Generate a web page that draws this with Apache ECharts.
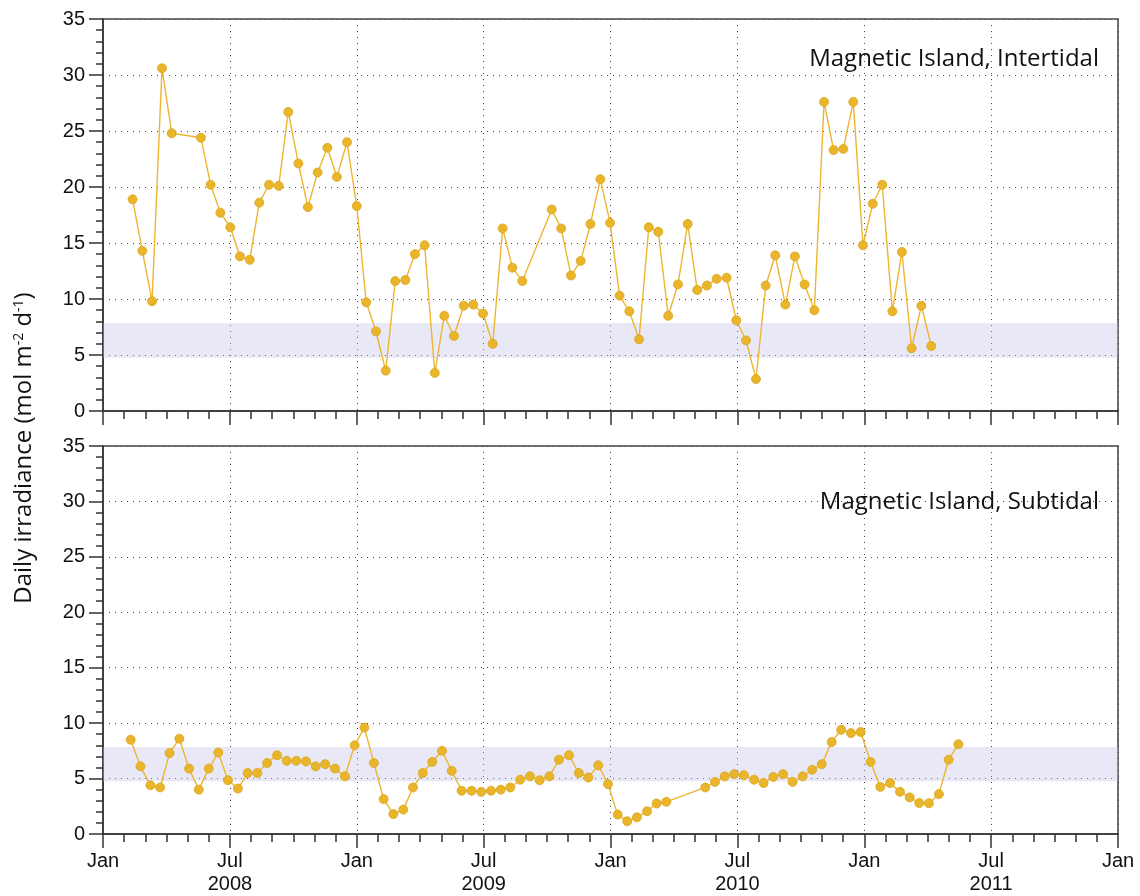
<!DOCTYPE html>
<html>
<head>
<meta charset="utf-8">
<script src="https://cdn.jsdelivr.net/npm/echarts@6/dist/echarts.min.js"></script>
<style>
html,body{margin:0;padding:0;background:#fff;}
#chart{width:1140px;height:896px;}
</style>
</head>
<body>
<div id="chart"></div>
<script>
// Time in months since Jan 2008 (axis runs Jan 2008 .. Jan 2012)
var intertidalMonths = [1.40,1.86,2.32,2.79,3.25,4.63,5.09,5.55,6.02,6.48,6.94,7.39,7.85,8.31,8.76,9.24,9.69,10.15,10.61,11.06,11.54,12.00,12.45,12.91,13.37,13.82,14.30,14.75,15.21,15.69,16.14,16.60,17.06,17.51,17.97,18.43,18.90,19.36,19.83,21.22,21.67,22.13,22.59,23.05,23.52,23.98,24.43,24.89,25.35,25.81,26.26,26.73,27.19,27.65,28.10,28.56,29.02,29.49,29.95,30.41,30.88,31.34,31.79,32.27,32.72,33.18,33.64,34.10,34.55,35.01,35.48,35.94,36.40,36.85,37.33,37.78,38.24,38.70,39.17];
var intertidalValues = [18.9,14.3,9.8,30.6,24.8,24.4,20.2,17.7,16.4,13.8,13.5,18.6,20.2,20.1,26.7,22.1,18.2,21.3,23.5,20.9,24.0,18.3,9.7,7.1,3.6,11.6,11.7,14.0,14.8,3.4,8.5,6.7,9.4,9.5,8.7,6.0,16.3,12.8,11.6,18.0,16.3,12.1,13.4,16.7,20.7,16.8,10.3,8.9,6.4,16.4,16.0,8.5,11.3,16.7,10.8,11.2,11.8,11.9,8.1,6.3,2.85,11.2,13.9,9.5,13.8,11.3,9.0,27.6,23.3,23.4,27.6,14.8,18.5,20.2,8.9,14.2,5.6,9.4,5.8];
var subtidalMonths = [1.31,1.77,2.24,2.70,3.15,3.61,4.07,4.53,5.00,5.45,5.91,6.38,6.84,7.30,7.76,8.23,8.69,9.14,9.60,10.06,10.51,10.97,11.44,11.90,12.36,12.81,13.27,13.73,14.20,14.66,15.12,15.57,16.03,16.49,16.96,17.43,17.89,18.35,18.81,19.26,19.73,20.19,20.65,21.11,21.56,22.04,22.50,22.95,23.42,23.88,24.34,24.79,25.25,25.73,26.18,26.64,28.48,28.94,29.40,29.85,30.31,30.79,31.24,31.70,32.16,32.61,33.09,33.54,33.99,34.46,34.91,35.37,35.83,36.30,36.76,37.22,37.69,38.15,38.60,39.06,39.53,39.99,40.45];
var subtidalValues = [8.5,6.1,4.4,4.2,7.3,8.6,5.9,4.0,5.9,7.35,4.85,4.1,5.5,5.5,6.4,7.1,6.6,6.6,6.55,6.1,6.3,5.9,5.2,8.0,9.6,6.4,3.15,1.8,2.2,4.2,5.5,6.5,7.5,5.7,3.9,3.9,3.8,3.9,4.0,4.2,4.9,5.2,4.85,5.2,6.7,7.1,5.5,5.1,6.2,4.5,1.75,1.15,1.5,2.05,2.75,2.9,4.2,4.7,5.2,5.4,5.3,4.9,4.6,5.15,5.4,4.7,5.2,5.8,6.3,8.3,9.4,9.1,9.2,6.5,4.25,4.6,3.8,3.3,2.8,2.77,3.6,6.7,8.1];
var bandRange = [4.75, 7.85];
var panelTitles = ['Magnetic Island, Intertidal', 'Magnetic Island, Subtidal'];
var startYear = 2008;
var yTitle = 'Daily irradiance (mol m{sup|-2} d{sup|-1})';

function pairs(xs, ys){ return xs.map(function(x,i){ return [x, ys[i]]; }); }

var dotted = {show:true, lineStyle:{color:'#444', width:1, type:[1,5]}};
function xAxisCfg(idx, showLabels){
  return {
    type:'value', gridIndex:idx, min:0, max:48, interval:6,
    axisLine:{show:true, onZero:false, lineStyle:{color:'#333', width:1.5}},
    axisTick:{show:true, inside:false, length:14, lineStyle:{color:'#333', width:1.5}},
    minorTick:{show:true, splitNumber:6, length:8, lineStyle:{color:'#333', width:1.5}},
    splitLine:dotted,
    axisLabel:{show:showLabels, fontFamily:'Liberation Sans', fontSize:20, color:'#111', margin:16, lineHeight:23,
      formatter:function(v){ if (v % 12 === 0) return 'Jan'; return 'Jul\n' + (startYear + Math.floor(v/12)); }}
  };
}
function yAxisCfg(idx){
  return {
    type:'value', gridIndex:idx, min:0, max:35, interval:5,
    axisLine:{show:true, lineStyle:{color:'#333', width:1.5}},
    axisTick:{show:true, inside:false, length:14, lineStyle:{color:'#333', width:1.5}},
    minorTick:{show:true, splitNumber:5, length:7, lineStyle:{color:'#333', width:1.5}},
    splitLine:dotted,
    axisLabel:{fontFamily:'Liberation Sans', fontSize:20, color:'#111', margin:18}
  };
}
function seriesCfg(idx, data){
  return {
    type:'line', xAxisIndex:idx, yAxisIndex:idx, data:data,
    symbol:'circle', symbolSize:9,
    lineStyle:{color:'#EDB530', width:1.4},
    itemStyle:{color:'#E9B52A', borderColor:'#DCA51E', borderWidth:0.8},
    z:3,
    markArea:{silent:true, itemStyle:{color:'rgba(190,190,232,0.36)'},
      data:[[{xAxis:0, yAxis:bandRange[0]},{xAxis:48, yAxis:bandRange[1]}]]}
  };
}

var chart = echarts.init(document.getElementById('chart'), null, {renderer:'canvas'});
chart.setOption({
  backgroundColor:'#fff',
  animation:false,
  grid:[
    {left:103, right:22, top:19, height:392, show:true, borderColor:'#444', borderWidth:1.5, backgroundColor:'transparent'},
    {left:103, right:22, top:446, height:392, show:true, borderColor:'#444', borderWidth:1.5, backgroundColor:'transparent'}
  ],
  xAxis:[xAxisCfg(0,false), xAxisCfg(1,true)],
  yAxis:[yAxisCfg(0), yAxisCfg(1)],
  series:[seriesCfg(0, pairs(intertidalMonths, intertidalValues)), seriesCfg(1, pairs(subtidalMonths, subtidalValues))],
  graphic:[
    {type:'text', x:1099, y:59, style:{text:panelTitles[0], fontFamily:'Open Sans', fontSize:24, fill:'#111', textAlign:'right', textVerticalAlign:'middle'}},
    {type:'text', x:1099, y:502, style:{text:panelTitles[1], fontFamily:'Open Sans', fontSize:24, fill:'#111', textAlign:'right', textVerticalAlign:'middle'}},
    {type:'text', x:24, y:448, rotation:Math.PI/2,
      style:{text:yTitle, fontFamily:'Open Sans', fontSize:24, fill:'#111', textAlign:'center', textVerticalAlign:'middle',
        rich:{sup:{fontFamily:'Open Sans', fontSize:14, fill:'#111', verticalAlign:'top', lineHeight:15}}}}
  ]
});
</script>
</body>
</html>
